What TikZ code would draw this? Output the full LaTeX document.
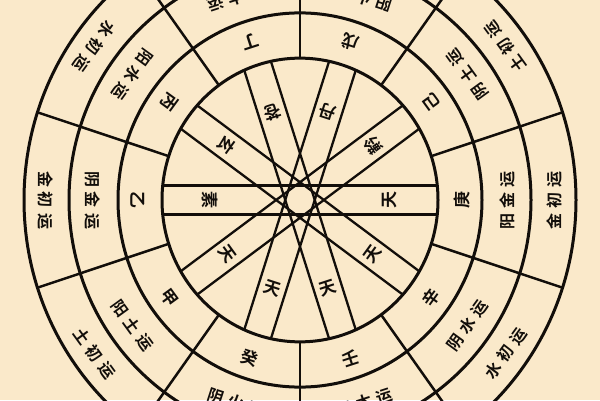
\documentclass[tikz,border=0pt]{standalone}
\usepackage{fontspec}
\newfontfamily\cjk{Noto Sans CJK SC}[UprightFont={* Bold}]
\definecolor{paper}{RGB}{250,233,202}
\definecolor{ink}{RGB}{18,14,10}
\newcommand\gapk{\kern5pt }
\begin{document}
\begin{tikzpicture}[x=1pt,y=1pt,
  ring/.style={draw=ink,line width=3pt},
  divider/.style={draw=ink,line width=2.5pt},
  band/.style={draw=ink,line width=2.3pt},
  lab/.style={text=ink,font=\cjk\fontsize{16}{16}\selectfont, inner sep=0pt},
  stemlab/.style={text=ink,font=\cjk\fontsize{17}{17}\selectfont, inner sep=0pt},
]
\useasboundingbox (0,0) rectangle (600,400);
\clip (0,0) rectangle (600,400);
\fill[paper] (0,0) rectangle (600,400);
\begin{scope}[shift={(300,200)}, yscale=1.028]
  \coordinate (c) at (0,0);
  % rings
  \foreach \r in {138,182,231,276} \draw[ring] (c) circle (\r);
  % radial dividers
  \foreach \a in {18,54,...,342} \draw[divider] (\a:138) -- (\a:276);
  % five bands (star)
  \foreach \a in {0,36,...,144} {
    \draw[band] (\a+5.83:138) -- (\a+174.17:138);
    \draw[band] (\a-5.83:138) -- (\a+185.83:138);
  }
  % inner labels
  \foreach \a/\t in {36/黅,72/丹,108/苍,144/玄,180/素,216/天,252/天,288/天,324/天,0/天}
    \node[stemlab, rotate=\a+90] at (\a:90) {\t};
  % stems
  \foreach \a/\t in {0/庚,36/己,72/戊,108/丁,144/丙,180/乙,216/甲,252/癸,288/壬,324/辛}
    \node[stemlab, rotate=\a+90] at (\a:162) {\t};
  % movements
  \foreach \a/\x/\y in {0/阳/金,36/阴/土,72/阳/火,108/阴/木,144/阳/水,180/阴/金,216/阳/土,252/阴/火,288/阳/木,324/阴/水}
    \node[lab, rotate=\a+90] at (\a:207) {\x\gapk\y\gapk 运};
  % initial movements
  \foreach \a/\x in {0/金,36/土,72/火,108/木,144/水,180/金,216/土,252/火,288/木,324/水}
    \node[lab, rotate=\a+90] at (\a:254) {\x\gapk 初\gapk 运};
\end{scope}
\end{tikzpicture}
\end{document}
